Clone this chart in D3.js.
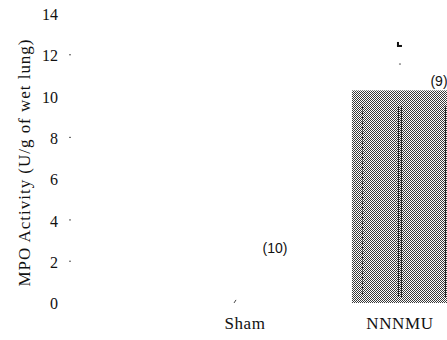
<!DOCTYPE html>
<html>
<head>
<meta charset="utf-8">
<script src="https://cdn.jsdelivr.net/npm/d3@7"></script>
<style>
  html, body { margin: 0; padding: 0; background: #fff; }
  svg { display: block; }
  .serif { font-family: "Liberation Serif", "Times New Roman", serif; }
  .sans { font-family: "Liberation Sans", Arial, sans-serif; }
</style>
</head>
<body>
<svg id="chart" width="447" height="340"></svg>
<script>
// MPO activity per group
const categories = ["Sham", "NNNMU"];
const meanValues = [0.05, 10.3];
const errorTops = [0.15, 12.5];
const sampleSizes = ["(10)", "(9)"];
const yTicks = [0, 2, 4, 6, 8, 10, 12, 14];
const tickMarks = [2, 4, 8, 12];
const yTitle = "MPO Activity (U/g of wet lung)";

const svg = d3.select("#chart");

const y = d3.scaleLinear().domain([0, 14]).range([303, 14]);
const x = d3.scaleBand().domain(categories).range([197, 448]).paddingInner(0.38).paddingOuter(0);

// dithered grey fill for the bars
const defs = svg.append("defs");
const pat = defs.append("pattern")
  .attr("id", "dither").attr("patternUnits", "userSpaceOnUse")
  .attr("width", 2).attr("height", 2);
pat.append("rect").attr("width", 2).attr("height", 2).attr("fill", "#fff");
pat.append("rect").attr("x", 0).attr("y", 0).attr("width", 1).attr("height", 1).attr("fill", "#3a3a3a");
pat.append("rect").attr("x", 1).attr("y", 1).attr("width", 1).attr("height", 1).attr("fill", "#3a3a3a");

// y axis: labels only, with faint tick dots
const yAxis = d3.axisLeft(y).tickValues(yTicks).tickSize(0).tickPadding(0).tickFormat(d3.format("d"));
const gy = svg.append("g").attr("transform", "translate(58,0)").call(yAxis);
gy.attr("font-family", null);
gy.select(".domain").remove();
gy.selectAll("text")
  .attr("class", "serif")
  .style("font-size", "16px")
  .attr("fill", "#111")
  .attr("dy", "0.35em");

svg.append("g").selectAll("rect").data(tickMarks).join("rect")
  .attr("x", 69).attr("y", d => y(d) - 1).attr("width", 2).attr("height", 1)
  .attr("fill", "#555");

svg.append("text")
  .attr("class", "serif")
  .attr("transform", `translate(30,163) rotate(-90)`)
  .attr("text-anchor", "middle")
  .style("font-size", "17px")
  .attr("textLength", 247)
  .attr("lengthAdjust", "spacing")
  .attr("fill", "#111")
  .text(yTitle);

// bars
const data = categories.map((c, i) => ({ c, v: meanValues[i], e: errorTops[i], n: sampleSizes[i] }));

svg.append("g").selectAll("rect").data(data.filter(d => d.v > 1)).join("rect")
  .attr("x", d => x(d.c))
  .attr("y", d => y(d.v))
  .attr("width", x.bandwidth())
  .attr("height", d => y(0) - y(d.v))
  .attr("fill", "url(#dither)");

// vertical rules inside the filled bar
const ruleOffsets = [10, 46, 49, 93];
data.filter(d => d.v > 1).forEach(d => {
  svg.append("g").selectAll("line").data(ruleOffsets).join("line")
    .attr("x1", o => x(d.c) + o + 0.5).attr("x2", o => x(d.c) + o + 0.5)
    .attr("y1", y(d.v) + 16).attr("y2", y(0) - 6)
    .attr("stroke", "#222").attr("stroke-width", 1)
    .attr("stroke-dasharray", (o, i) => i === 0 ? "3,2" : null);
});

// error marks
data.forEach(d => {
  const cx = x(d.c) + x.bandwidth() / 2;
  if (d.v > 1) {
    svg.append("rect").attr("x", cx - 3).attr("y", y(d.e) - 3).attr("width", 2).attr("height", 4).attr("fill", "#111");
    svg.append("rect").attr("x", cx - 3).attr("y", y(d.e)).attr("width", 5).attr("height", 2).attr("fill", "#111");
    svg.append("rect").attr("x", cx - 1).attr("y", y((d.v + d.e) / 2 + 0.2)).attr("width", 2).attr("height", 1).attr("fill", "#555");
  } else {
    svg.append("line")
      .attr("x1", cx - 11).attr("y1", y(d.v) + 1)
      .attr("x2", cx - 9).attr("y2", y(d.e))
      .attr("stroke", "#444").attr("stroke-width", 1);
  }
});

// sample size labels
svg.append("g").selectAll("text").data(data).join("text")
  .attr("class", "sans")
  .attr("x", d => d.v > 1 ? x(d.c) + x.bandwidth() - 9 : x(d.c) + x.bandwidth() / 2 + 30)
  .attr("y", d => d.v > 1 ? y(d.v) - 9 : y(2.65))
  .attr("text-anchor", "middle")
  .attr("dy", "0.35em")
  .style("font-size", "14px")
  .attr("fill", "#111")
  .text(d => d.n);

// category labels
const xAxis = d3.axisBottom(x).tickSize(0).tickPadding(0);
const gx = svg.append("g").attr("transform", "translate(0,317)").call(xAxis);
gx.attr("font-family", null);
gx.select(".domain").remove();
gx.selectAll("text")
  .attr("class", "serif")
  .style("font-size", "17px")
  .attr("letter-spacing", "0.6")
  .attr("fill", "#111");
</script>
</body>
</html>
